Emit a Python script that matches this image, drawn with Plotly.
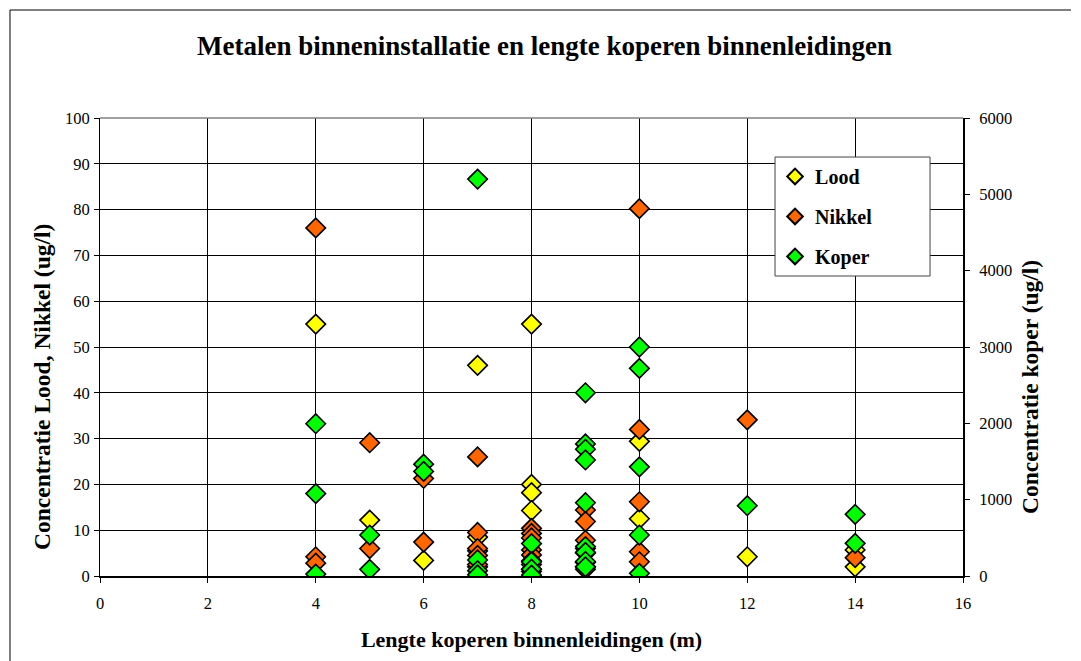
import plotly.graph_objects as go

# Lengte koperen binnenleidingen (m) and concentrations
lood_x = [4, 5, 6, 7, 7, 7, 7, 8, 8, 8, 8, 8, 8, 9, 9, 9, 10, 10, 12, 14, 14]
lood_y = [55, 12.2, 3.4, 46, 8.5, 5.5, 2, 55, 20, 18.2, 14.3, 2.5, 1, 5, 3, 2, 29.4, 12.5, 4.2, 5.7, 2]

nikkel_x = [4, 4, 4, 5, 5, 6, 6, 7, 7, 7, 7, 7, 8, 8, 8, 8, 8, 8, 8, 9, 9, 9, 9, 9, 9, 10, 10, 10, 10, 10, 12, 14]
nikkel_y = [76, 4.2, 2.8, 29.1, 6, 21.3, 7.4, 26, 9.5, 6, 4.5, 2.5, 10.4, 9.3, 8.3, 5.7, 4.6, 3.3, 1.5,
            14.4, 11.9, 7.8, 6, 3, 1.5, 80.2, 32, 16.2, 5.3, 3.1, 34.1, 4]

koper_x = [4, 4, 4, 5, 5, 6, 6, 7, 7, 7, 7, 8, 8, 8, 8, 9, 9, 9, 9, 9, 9, 9, 9, 9,
           10, 10, 10, 10, 10, 12, 14, 14]
koper_y = [1995, 1080, 25, 537, 87, 1465, 1370, 5200, 210, 70, 15, 425, 185, 90, 12,
           2400, 1730, 1660, 1520, 960, 385, 310, 190, 120,
           3000, 2720, 1430, 537, 35, 921, 808, 428]

x_ticks = [0, 2, 4, 6, 8, 10, 12, 14, 16]

FONT = "Liberation Serif, Times New Roman, serif"

def mk(color):
    return dict(symbol="diamond", size=15, color=color, line=dict(color="black", width=1.6))

fig = go.Figure()
fig.add_trace(go.Scatter(x=lood_x, y=lood_y, mode="markers", name="<b>Lood</b>",
                         marker=mk("#FFFF00"), legendgroup="a"))
fig.add_trace(go.Scatter(x=nikkel_x, y=nikkel_y, mode="markers", name="<b>Nikkel</b>",
                         marker=mk("#FF6600"), legendgroup="b"))
fig.add_trace(go.Scatter(x=koper_x, y=koper_y, mode="markers", name="<b>Koper</b>",
                         marker=mk("#00FF00"), legendgroup="c", yaxis="y2"))

fig.update_layout(
    width=1073, height=653,
    margin=dict(l=92, r=118, t=110, b=85),
    paper_bgcolor="white", plot_bgcolor="white",
    font=dict(family=FONT, size=16.5, color="black"),
    title=dict(text="<b>Metalen binneninstallatie en lengte koperen binnenleidingen</b>",
               x=0.5, xanchor="center", y=0.943, yanchor="middle",
               font=dict(family=FONT, size=27, color="black")),
    xaxis=dict(range=[0, 16], tickvals=x_ticks, showgrid=True, gridcolor="black", gridwidth=1,
               showline=True, linecolor="black", linewidth=1.5, mirror=False,
               ticks="outside", ticklen=5, tickcolor="black", zeroline=False,
               ticklabelstandoff=6,
               title=dict(text="<b>Lengte koperen binnenleidingen (m)</b>",
                          font=dict(family=FONT, size=22), standoff=20)),
    yaxis=dict(range=[0, 100], dtick=10, showgrid=True, gridcolor="black", gridwidth=1,
               showline=True, linecolor="black", linewidth=1, ticks="outside", ticklen=5,
               tickcolor="black", zeroline=False, ticklabelstandoff=1),
    yaxis2=dict(range=[0, 6000], dtick=1000, overlaying="y", side="right", showgrid=False,
                showline=True, linecolor="black", linewidth=2, ticks="outside", ticklen=5,
                tickcolor="black", zeroline=False, ticklabelstandoff=6),
    legend=dict(x=0.7822, y=0.915, xanchor="left", yanchor="top",
                bgcolor="rgba(0,0,0,0)", borderwidth=0,
                font=dict(family=FONT, size=20), traceorder="grouped", tracegroupgap=11,
                itemsizing="constant"),
    showlegend=True,
    annotations=[
        dict(text="<b>Concentratie Lood, Nikkel (ug/l)</b>", xref="paper", yref="paper",
             x=-0.0672, y=0.4127, xanchor="center", yanchor="middle", textangle=-90,
             showarrow=False, font=dict(family=FONT, size=23.5)),
        dict(text="<b>Concentratie koper (ug/l)</b>", xref="paper", yref="paper",
             x=1.0776, y=0.4127, xanchor="center", yanchor="middle", textangle=-90,
             showarrow=False, font=dict(family=FONT, size=23.5)),
    ],
    shapes=[
        dict(type="line", xref="paper", yref="paper", x0=-0.1043, x1=-0.1043, y0=1.2358, y1=-0.2,
             line=dict(color="black", width=1)),
        dict(type="line", xref="paper", yref="paper", x0=-0.1043, x1=1.1251, y0=1.2358, y1=1.2358,
             line=dict(color="black", width=1)),
        dict(type="line", xref="paper", yref="paper", x0=0, x1=1, y0=1, y1=1,
             line=dict(color="#808080", width=1.5)),
        dict(type="rect", xref="paper", yref="paper", x0=0.7822, x1=0.9618, y0=0.655, y1=0.9148,
             fillcolor="white", line=dict(color="#444444", width=1), layer="above"),
    ],
)

fig.write_html("out.html")
